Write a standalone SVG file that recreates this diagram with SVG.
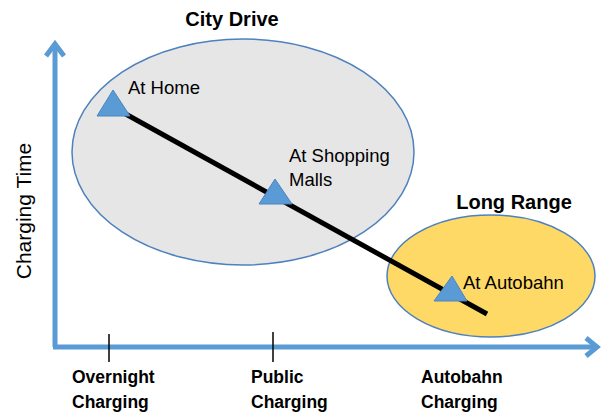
<svg xmlns="http://www.w3.org/2000/svg" width="601" height="416" viewBox="0 0 601 416">
<style>
.t{font-family:"Liberation Sans",Arial,sans-serif;font-size:18.5px;fill:#000}
.b{font-family:"Liberation Sans",Arial,sans-serif;font-weight:bold;fill:#000}
.h{font-size:20px}
.x{font-size:17.5px}
.axis{stroke:#5b9bd5;stroke-width:5;fill:none}
.tri{fill:#5b9bd5;stroke:#4a85c0;stroke-width:1}
.tick{stroke:#000;stroke-width:1.5}
</style>
<rect width="601" height="416" fill="#fff"/>
<g id="city-drive">
<ellipse cx="243" cy="152" rx="171" ry="113" fill="#e6e6e6" stroke="#4f81bd" stroke-width="1.5"/>
<text class="b h" x="232" y="26" text-anchor="middle">City Drive</text>
</g>
<g id="long-range">
<ellipse cx="491" cy="276" rx="104" ry="61" fill="#ffd966" stroke="#4f81bd" stroke-width="1.5"/>
<text class="b h" x="514" y="209" text-anchor="middle">Long Range</text>
</g>
<g id="connectors">
<line x1="113" y1="107" x2="487" y2="314" stroke="#000" stroke-width="5"/>
<path class="axis" d="M55,347 V44"/>
<path class="axis" d="M46,56 L55,44 L64,56"/>
<path class="axis" d="M53,347 H597"/>
<path class="axis" d="M586,338 L597,347 L586,356"/>
<line class="tick" x1="109" y1="334" x2="109" y2="362"/>
<line class="tick" x1="273" y1="332" x2="273" y2="362"/>
</g>
<g id="at-home">
<polygon class="tri" points="113,90 130,116 97,116"/>
<text class="t" x="128" y="94">At Home</text>
</g>
<g id="at-shopping">
<polygon class="tri" points="275,179 292,204 259,204"/>
<text class="t" x="289" y="162">At Shopping</text>
<text class="t" x="289" y="186">Malls</text>
</g>
<g id="at-autobahn">
<polygon class="tri" points="452,276 467,301 434,301"/>
<text class="t" x="463" y="289">At Autobahn</text>
</g>
<g id="y-label">
<text class="t" style="font-size:21px" transform="translate(31,211) rotate(-90)" text-anchor="middle">Charging Time</text>
</g>
<g id="x-labels">
<text class="b x" x="72" y="383">Overnight</text>
<text class="b x" x="72" y="408">Charging</text>
<text class="b x" x="251" y="383">Public</text>
<text class="b x" x="251" y="408">Charging</text>
<text class="b x" x="421" y="383">Autobahn</text>
<text class="b x" x="421" y="408">Charging</text>
</g>
</svg>
